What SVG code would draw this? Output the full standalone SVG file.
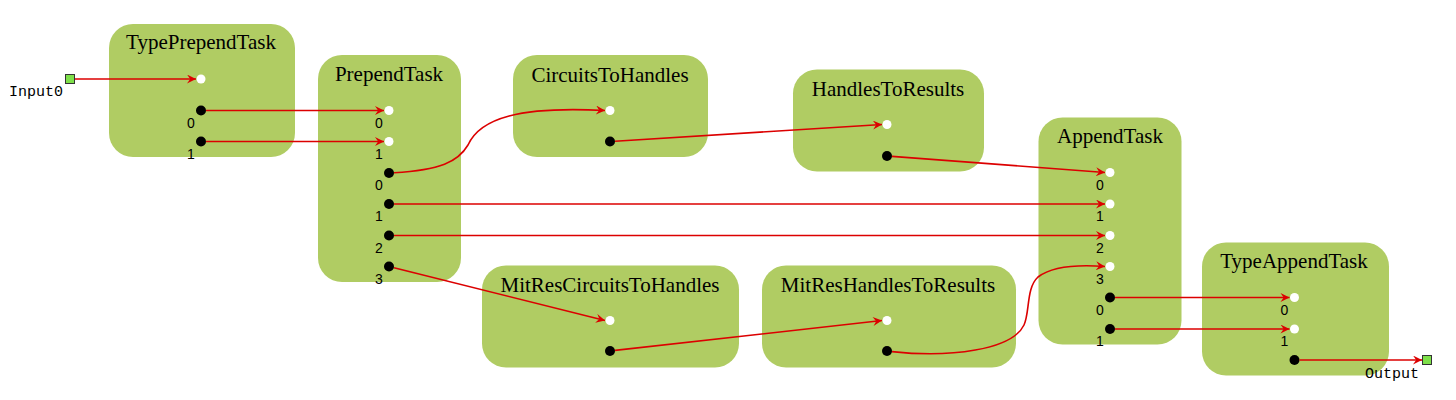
<svg xmlns="http://www.w3.org/2000/svg" width="1456" height="400" viewBox="0 0 1456 400">
<defs>
<marker id="arr" viewBox="0 0 10 10" refX="10" refY="5" markerWidth="11" markerHeight="9" markerUnits="userSpaceOnUse" orient="auto">
<path d="M0,0 L10,5 L0,10 L3.5,5 z" fill="#dc0000"/>
</marker>
<style>
.box{fill:#b0cc63;}
.title{font-family:"Liberation Serif",serif;font-size:21px;text-anchor:middle;fill:#000;}
.pl{font-family:"Liberation Sans",sans-serif;font-size:14px;text-anchor:middle;fill:#000;}
.mono{font-family:"Liberation Mono",monospace;font-size:15px;fill:#000;}
.in{fill:#fff;}
.out{fill:#000;}
.e{fill:none;stroke:#dc0000;stroke-width:1.6;marker-end:url(#arr);}
.term{fill:#7ee04a;stroke:#333;stroke-width:1;}
</style>
</defs>
<rect width="1456" height="400" fill="#fff"/>

<g id="TypePrependTask">
<rect class="box" x="109" y="24" width="186" height="133" rx="24"/>
<text class="title" x="201" y="49">TypePrependTask</text>
<circle class="in" cx="201" cy="79" r="4.5"/>
<circle class="out" cx="201" cy="110.5" r="5"/>
<text class="pl" x="191" y="128">0</text>
<circle class="out" cx="201" cy="141.5" r="5"/>
<text class="pl" x="191" y="159">1</text>
</g>

<g id="PrependTask">
<rect class="box" x="318" y="55" width="143" height="227" rx="24"/>
<text class="title" x="389" y="81">PrependTask</text>
<circle class="in" cx="389" cy="110.5" r="4.5"/>
<text class="pl" x="379" y="128">0</text>
<circle class="in" cx="389" cy="141.5" r="4.5"/>
<text class="pl" x="379" y="159">1</text>
<circle class="out" cx="389" cy="173" r="5"/>
<text class="pl" x="379" y="190">0</text>
<circle class="out" cx="389" cy="204" r="5"/>
<text class="pl" x="379" y="221">1</text>
<circle class="out" cx="389" cy="235.5" r="5"/>
<text class="pl" x="379" y="253">2</text>
<circle class="out" cx="389" cy="266.5" r="5"/>
<text class="pl" x="379" y="284">3</text>
</g>

<g id="CircuitsToHandles">
<rect class="box" x="513" y="55" width="195" height="102" rx="24"/>
<text class="title" x="610" y="82">CircuitsToHandles</text>
<circle class="in" cx="610" cy="110.5" r="4.5"/>
<circle class="out" cx="610" cy="141.5" r="5"/>
</g>

<g id="HandlesToResults">
<rect class="box" x="793" y="69.5" width="191" height="102" rx="24"/>
<text class="title" x="888" y="95.5">HandlesToResults</text>
<circle class="in" cx="887" cy="124.5" r="4.5"/>
<circle class="out" cx="887" cy="156" r="5"/>
</g>

<g id="MitResCircuitsToHandles">
<rect class="box" x="482" y="265.5" width="257" height="102" rx="24"/>
<text class="title" x="610" y="292">MitResCircuitsToHandles</text>
<circle class="in" cx="610" cy="320.5" r="4.5"/>
<circle class="out" cx="610" cy="351" r="5"/>
</g>

<g id="MitResHandlesToResults">
<rect class="box" x="762" y="265.5" width="254" height="102" rx="24"/>
<text class="title" x="888" y="292">MitResHandlesToResults</text>
<circle class="in" cx="887" cy="320.5" r="4.5"/>
<circle class="out" cx="887" cy="351" r="5"/>
</g>

<g id="AppendTask">
<rect class="box" x="1038.5" y="117.5" width="143" height="227" rx="24"/>
<text class="title" x="1110" y="143">AppendTask</text>
<circle class="in" cx="1110" cy="172.5" r="4.5"/>
<text class="pl" x="1100" y="190">0</text>
<circle class="in" cx="1110" cy="204" r="4.5"/>
<text class="pl" x="1100" y="221">1</text>
<circle class="in" cx="1110" cy="235.5" r="4.5"/>
<text class="pl" x="1100" y="253">2</text>
<circle class="in" cx="1110" cy="266.5" r="4.5"/>
<text class="pl" x="1100" y="284">3</text>
<circle class="out" cx="1110" cy="297.5" r="5"/>
<text class="pl" x="1100" y="315">0</text>
<circle class="out" cx="1110" cy="329" r="5"/>
<text class="pl" x="1100" y="346">1</text>
</g>

<g id="TypeAppendTask">
<rect class="box" x="1202" y="242.5" width="187" height="133" rx="24"/>
<text class="title" x="1294" y="268">TypeAppendTask</text>
<circle class="in" cx="1294.5" cy="297.5" r="4.5"/>
<text class="pl" x="1284.5" y="315">0</text>
<circle class="in" cx="1294.5" cy="329" r="4.5"/>
<text class="pl" x="1284.5" y="346">1</text>
<circle class="out" cx="1294.5" cy="360" r="5"/>
</g>

<g id="Input0">
<rect class="term" x="65.5" y="74.5" width="9" height="9"/>
<text class="mono" x="9" y="96">Input0</text>
</g>
<g id="Output">
<rect class="term" x="1422.5" y="355.5" width="9" height="9"/>
<text class="mono" x="1365" y="378">Output</text>
</g>

<g id="connectors">
<path class="e" d="M75,79 L196,79"/>
<path class="e" d="M206,110.5 L384,110.5"/>
<path class="e" d="M206,141.5 L384,141.5"/>
<path class="e" d="M394,172.8 C440,170 458,162 468,145 C480,118 520,106 605,110.5"/>
<path class="e" d="M615,141.2 L882,124.5"/>
<path class="e" d="M892,156.4 L1105,172.5"/>
<path class="e" d="M394,204 L1105,204"/>
<path class="e" d="M394,235.5 L1105,235.5"/>
<path class="e" d="M394,267.7 L605,320.5"/>
<path class="e" d="M615,350.4 L882,320.5"/>
<path class="e" d="M892,351.6 C950,358 1012,350 1024,325 C1030,312 1026,288 1038,277 C1055,264 1085,265 1105,266.5"/>
<path class="e" d="M1115,297.5 L1289.5,297.5"/>
<path class="e" d="M1115,329 L1289.5,329"/>
<path class="e" d="M1299.5,360 L1422,360"/>
</g>
</svg>
